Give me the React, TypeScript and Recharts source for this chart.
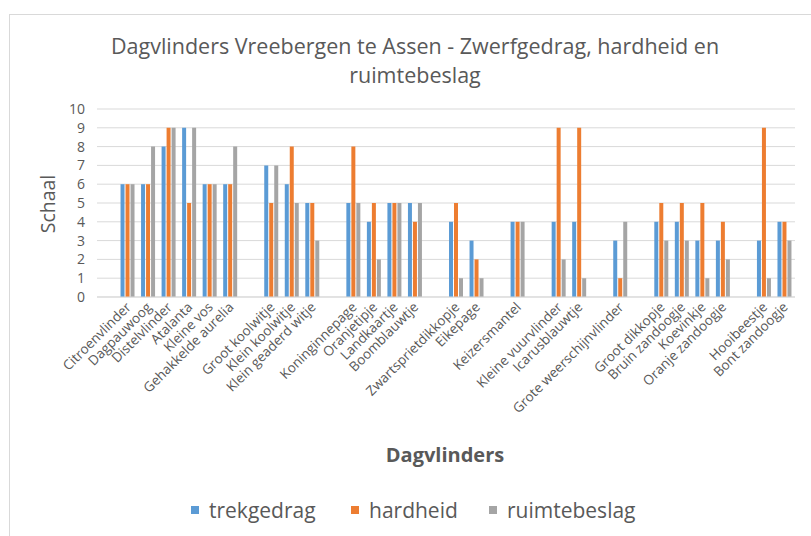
import { BarChart, Bar, XAxis, YAxis, CartesianGrid } from 'recharts'

// lege namen zijn de open plekken tussen de groepen
const soorten = [
  '', 'Citroenvlinder', 'Dagpauwoog', 'Distelvlinder', 'Atalanta', 'Kleine vos', 'Gehakkelde aurelia',
  ' ', 'Groot koolwitje', 'Klein koolwitje', 'Klein geaderd witje',
  '  ', 'Koninginnepage', 'Oranjetipje', 'Landkaartje', 'Boomblauwtje',
  '   ', 'Zwartsprietdikkopje', 'Eikepage',
  '    ', 'Keizersmantel',
  '     ', 'Kleine vuurvlinder', 'Icarusblauwtje',
  '      ', 'Grote weerschijnvlinder',
  '       ', 'Groot dikkopje', 'Bruin zandoogje', 'Koevinkje', 'Oranje zandoogje',
  '        ', 'Hooibeestje', 'Bont zandoogje',
]

const trekgedrag = [null, 6, 6, 8, 9, 6, 6, null, 7, 6, 5, null, 5, 4, 5, 5, null, 4, 3, null, 4, null, 4, 4, null, 3, null, 4, 4, 3, 3, null, 3, 4]
const hardheid = [null, 6, 6, 9, 5, 6, 6, null, 5, 8, 5, null, 8, 5, 5, 4, null, 5, 2, null, 4, null, 9, 9, null, 1, null, 5, 5, 5, 4, null, 9, 4]
const ruimtebeslag = [null, 6, 8, 9, 9, 6, 8, null, 7, 5, 3, null, 5, 2, 5, 5, null, 1, 1, null, 4, null, 2, 1, null, 4, null, 3, 3, 1, 2, null, 1, 3]

const yTicks = [0, 1, 2, 3, 4, 5, 6, 7, 8, 9, 10]

const series = [
  { key: 'trekgedrag', color: '#5B9BD5' },
  { key: 'hardheid', color: '#ED7D31' },
  { key: 'ruimtebeslag', color: '#A5A5A5' },
]

const data = soorten.map((naam, i) => ({
  naam,
  trekgedrag: trekgedrag[i],
  hardheid: hardheid[i],
  ruimtebeslag: ruimtebeslag[i],
}))

const font = '"Open Sans", "DejaVu Sans", sans-serif'
const grijs = '#595959'

function SoortTick({ x, y, payload }: any) {
  return (
    <g transform={`translate(${x + 4},${y + 3})`}>
      <text textAnchor="end" transform="rotate(-45)" fontSize={13.5} fill={grijs} fontFamily={font}>
        {payload.value.trim()}
      </text>
    </g>
  )
}

export default function App() {
  return (
    <div style={{ position: 'absolute', left: 0, top: 0, width: 811, height: 536, background: '#fff', fontFamily: font, overflow: 'hidden' }}>
      <div style={{ position: 'absolute', left: 9, top: 14, width: 820, height: 540, border: '1px solid #D9D9D9' }} />
      <div style={{ position: 'absolute', left: 90, width: 650, top: 31, textAlign: 'center', fontSize: 21.5, lineHeight: '29px', color: grijs }}>
        Dagvlinders Vreebergen te Assen - Zwerfgedrag, hardheid en ruimtebeslag
      </div>
      <div style={{ position: 'absolute', left: 47, top: 204, transform: 'translate(-50%,-50%) rotate(-90deg)', fontSize: 19.5, color: grijs }}>
        Schaal
      </div>
      <div style={{ position: 'absolute', left: 445, top: 454, transform: 'translate(-50%,-50%)', fontSize: 20, fontWeight: 700, color: grijs }}>
        Dagvlinders
      </div>
      <div style={{ position: 'absolute', left: 0, top: 0 }}>
        <BarChart
          width={811}
          height={536}
          data={data}
          margin={{ top: 109, right: 16, left: 0, bottom: 99 }}
          barSize={4}
          barGap={1}
        >
          <CartesianGrid vertical={false} stroke="#D9D9D9" />
          <XAxis
            dataKey="naam"
            interval={0}
            height={140}
            tick={<SoortTick />}
            tickLine={false}
            axisLine={{ stroke: '#D9D9D9' }}
          />
          <YAxis
            width={97}
            domain={[0, 10]}
            ticks={yTicks}
            interval={0}
            tickLine={false}
            axisLine={false}
            tick={{ fontSize: 14, fill: grijs, fontFamily: font }}
            tickMargin={6}
          />
          {series.map((s) => (
            <Bar key={s.key} dataKey={s.key} fill={s.color} isAnimationActive={false} />
          ))}
        </BarChart>
      </div>
      {series.map((s, i) => (
        <div
          key={s.key}
          style={{ position: 'absolute', left: [191, 351, 489][i], top: 496, display: 'flex', alignItems: 'center', fontSize: 21, color: grijs }}
        >
          <span style={{ width: 8, height: 8, background: s.color, marginRight: 10, display: 'inline-block' }} />
          {s.key}
        </div>
      ))}
    </div>
  )
}
